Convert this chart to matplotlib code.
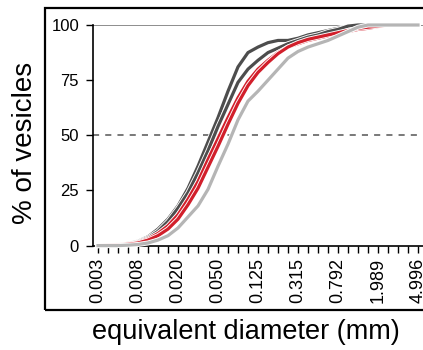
import matplotlib
matplotlib.use("Agg")
import matplotlib.pyplot as plt
import matplotlib.patheffects as pe
from matplotlib.patches import Rectangle

plt.rcParams['font.family'] = ['Liberation Sans', 'DejaVu Sans']

# size classes (mm), every 0.1 log10 step; labels on every 4th
bins = ["0.003", "", "", "", "0.008", "", "", "", "0.020", "", "", "", "0.050",
        "", "", "", "0.125", "", "", "", "0.315", "", "", "", "0.792", "", "", "",
        "1.989", "", "", "", "4.996"]

dark1 = [0, 0.3, 0.5, 1, 2, 4, 7.5, 12, 18, 26, 36, 47, 58, 70, 81, 87.5, 90, 92,
         93, 93, 94, 95.5, 96.5, 97.5, 98.5, 99.5, 100, 100, 100, 100, 100, 100, 100]
dark2 = [0, 0.3, 0.5, 1, 1.8, 3.5, 6.5, 11, 17, 24, 33, 43, 54, 64, 74, 80, 84, 87.5,
         89.5, 91.5, 93, 94.5, 95.5, 97, 98, 99.5, 100, 100, 100, 100, 100, 100, 100]
red1 = [0, 0.2, 0.4, 0.8, 1.5, 3, 5.5, 9, 14, 21, 29, 39, 48.5, 58, 67, 74.5, 80, 84,
        87.5, 90, 91.5, 93, 94, 95, 96, 97, 98, 98.5, 99.3, 100, 100, 100, 100]
red2 = [0, 0.2, 0.3, 0.6, 1.2, 2.5, 4.5, 7.5, 12, 18.5, 26, 35.5, 45, 55, 64.5, 72.5,
        78.5, 83, 87, 90, 92, 93.5, 94.5, 95.5, 96.5, 97.5, 98.5, 99, 99.5, 100, 100, 100, 100]
light = [0, 0, 0, 0.2, 0.5, 1.2, 2.5, 4.5, 8, 13, 18, 25.5, 36, 46, 57, 65.5, 70, 75,
         80, 85, 88, 90, 91.5, 93, 95, 97, 99, 100, 100, 100, 100, 100, 100]

series = [(dark1, '#4d4d4d'), (dark2, '#4d4d4d'), (red1, '#d21f2b'),
          (red2, '#d21f2b'), (light, '#b5b5b5')]

fig = plt.figure(figsize=(4.23, 3.5), dpi=100)
ax = fig.add_axes([93/423, 1-245.6/350, 330/423, 220.6/350])

x = list(range(len(bins)))
ax.axhline(100, color='#7a7a7a', lw=1.2, zorder=1)
ax.axhline(50, color='#555555', lw=1.1, ls=(0, (4, 4)), zorder=1)
for vals, c in series:
    ax.plot(x, vals, color=c, lw=2.3, solid_joinstyle='round', zorder=3, clip_on=False,
            path_effects=[pe.Stroke(linewidth=3.6, foreground='white'), pe.Normal()])

ax.set_xlim(-0.5, 32.5)
ax.set_ylim(0, 100)
ax.set_xticks(x)
ax.set_xticklabels(bins, rotation=90, fontsize=13)
ax.set_yticks([0, 25, 50, 75, 100])
ax.tick_params(axis='y', labelsize=12, length=5, width=1, direction='out', pad=5)
ax.tick_params(axis='x', length=5, width=1, direction='out', pad=4)
for s in ['top', 'right']:
    ax.spines[s].set_visible(False)
for s in ['left', 'bottom']:
    ax.spines[s].set_linewidth(1.2)

fig.text(25/423, 1-143/350, '% of vesicles', rotation=90, fontsize=20,
         ha='center', va='center')
fig.text(246/423, 1-332/350, 'equivalent diameter (mm)', fontsize=19.5,
         ha='center', va='center')

fig.patches.append(Rectangle((45/423, 1-310/350), 400/423, 302/350,
                             transform=fig.transFigure, fill=False,
                             edgecolor='black', lw=1.6, zorder=0))

fig.savefig('out.png', dpi=100)
